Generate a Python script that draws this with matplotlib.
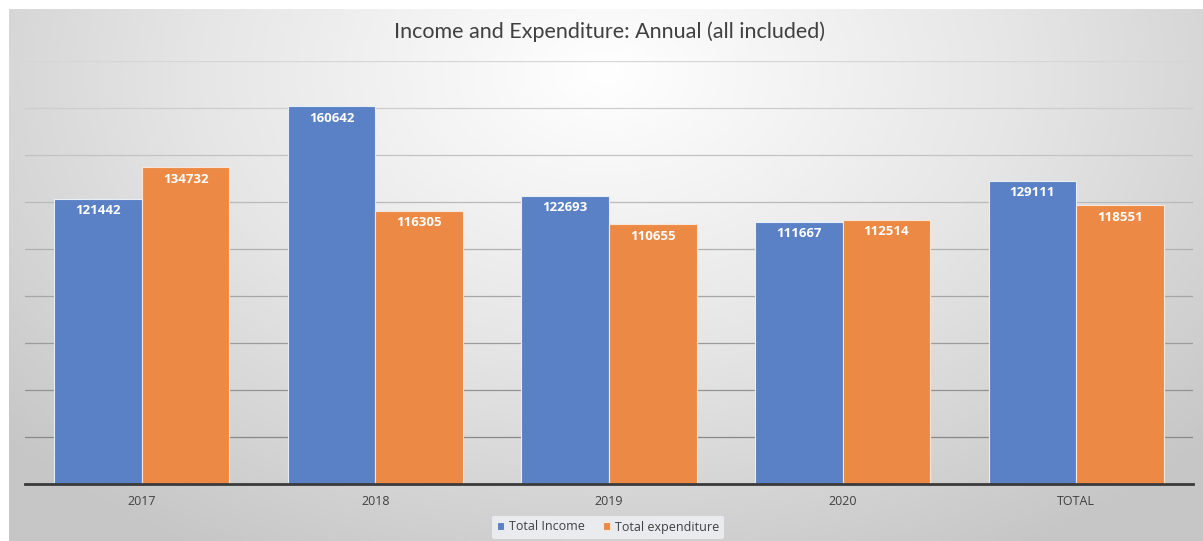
import matplotlib.pyplot as plt
import numpy as np
from matplotlib.colors import LinearSegmentedColormap

categories = ["2017", "2018", "2019", "2020", "TOTAL"]
income = [121442, 160642, 122693, 111667, 129111]
expenditure = [134732, 116305, 110655, 112514, 118551]

blue = "#5a80c5"
orange = "#ec8a45"
W, H = 1203, 541

fig = plt.figure(figsize=(W / 100, H / 100), dpi=100)

# radial gray background behind the chart area
bg = fig.add_axes([9 / W, 0, (W - 9) / W, (H - 9) / H], zorder=0)
yy, xx = np.mgrid[0:1:300j, 0:1:600j]
r = np.sqrt(((xx - 0.5) / 0.62) ** 2 + ((yy - 0.12) / 0.95) ** 2)
cmap = LinearSegmentedColormap.from_list("bg", ["#ffffff", "#e6e6e6", "#c6c6c6"])
bg.imshow(r, cmap=cmap, aspect="auto", extent=[0, 1, 1, 0], vmin=0, vmax=1.1)
bg.axis("off")

ax = fig.add_axes([25 / W, (H - 484) / H, 1168 / W, 423 / H], zorder=1)
ax.patch.set_alpha(0)

x = np.arange(len(categories))
w = 0.375
b1 = ax.bar(x - w / 2, income, w, color=blue, edgecolor="#e8eef8", lw=0.8,
            label="Total Income", zorder=3)
b2 = ax.bar(x + w / 2, expenditure, w, color=orange, edgecolor="#f8e6d8", lw=0.8,
            label="Total expenditure", zorder=3)

for bars, vals in ((b1, income), (b2, expenditure)):
    for rect, v in zip(bars, vals):
        ax.text(rect.get_x() + rect.get_width() / 2, v - 5200, str(v),
                ha="center", va="center", color="white", fontsize=9.5,
                fontweight="bold", family="Open Sans", zorder=4)

ax.set_xlim(-0.5, len(categories) - 0.5)
ax.set_ylim(0, 180000)
ax.set_xticks(x)
ax.set_xticklabels(categories, fontsize=9, color="#404040", family="Open Sans")
ax.set_yticks([])
ax.tick_params(axis="x", length=0, pad=8)

# gridlines get darker toward the bottom
levels = np.arange(20000, 180001, 20000)
for g in levels:
    t = g / 180000
    c = 0.50 + 0.34 * t
    ax.axhline(g, color=(c, c, c), lw=0.9, zorder=1)

for s in ("top", "right", "left"):
    ax.spines[s].set_visible(False)
ax.spines["bottom"].set_color("#3a3a3a")
ax.spines["bottom"].set_linewidth(2)
ax.spines["bottom"].set_zorder(5)

fig.text(609 / W, 1 - 32 / H, "Income and Expenditure: Annual (all included)",
         ha="center", va="center", fontsize=15.5, color="#404040", family="Lato")

leg = fig.legend(handles=[b1, b2], loc="center", bbox_to_anchor=(608 / W, 1 - 527 / H),
                 ncol=2, frameon=True, handlelength=0.6, handleheight=0.6,
                 handletextpad=0.4, columnspacing=1.4, borderpad=0.4,
                 prop={"family": "Open Sans", "size": 9})
leg.get_frame().set_facecolor("#e9ebee")
leg.get_frame().set_edgecolor("none")
leg.get_frame().set_alpha(1)
for t in leg.get_texts():
    t.set_color("#404040")

fig.savefig("out.png", dpi=100)
